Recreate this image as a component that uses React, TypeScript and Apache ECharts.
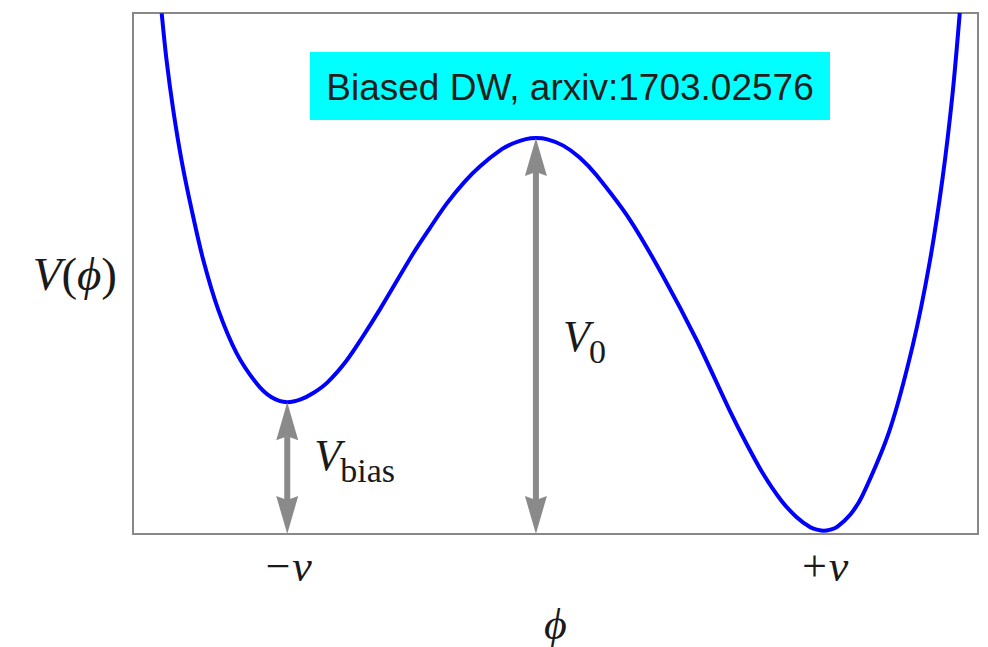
import React, { useEffect, useRef } from "react";
import * as echarts from "echarts";

// Biased double-well potential V(phi), phi in units of v, V in units of V0
const phiValues = [
  -1.468, -1.45, -1.425, -1.394, -1.356, -1.313, -1.257, -1.189, -1.114, -1.06,
  -1.0, -0.95, -0.903, -0.85, -0.78, -0.72, -0.654, -0.53, -0.47, -0.405,
  -0.34, -0.281, -0.2, -0.157, -0.11, -0.073, -0.03, 0.029, 0.09, 0.153,
  0.278, 0.402, 0.526, 0.65, 0.712, 0.774, 0.84, 0.898, 0.95, 0.975,
  1.0, 1.025, 1.05, 1.1, 1.145, 1.246, 1.332, 1.395, 1.443, 1.48,
  1.507,
];
const potentialValues = [
  1.315, 1.197, 1.071, 0.944, 0.818, 0.692, 0.566, 0.457, 0.38, 0.346,
  0.333, 0.34, 0.356, 0.383, 0.437, 0.497, 0.568, 0.709, 0.771, 0.835,
  0.889, 0.929, 0.972, 0.987, 0.9975, 1.0, 0.9967, 0.981, 0.951, 0.906,
  0.793, 0.65, 0.49, 0.311, 0.228, 0.152, 0.086, 0.043, 0.017, 0.011,
  0.008, 0.011, 0.018, 0.05, 0.098, 0.263, 0.477, 0.687, 0.899, 1.111,
  1.316,
];

// Vacua and their tick labels
const vacuumTicks = [-1, 1];
const vacuumLabels = ["\u2212v", "+v"];

// Double arrows: [phi, from V, to V] with labels V_sub
const arrowPhi = [-1, -0.073];
const arrowFrom = [0, 0];
const arrowTo = [0.333, 1.0];
const arrowSubscripts = ["bias", "0"];

const titleText = "Biased DW, arxiv:1703.02576";

const SERIF = '"Liberation Serif", "Times New Roman", "DejaVu Serif", serif';
const SANS = '"Liberation Sans", Arial, sans-serif';
const INK = "#1a1a1a";
const ARROW = "#8a8a8a";

export default function App() {
  const ref = useRef<HTMLDivElement>(null);

  useEffect(() => {
    if (!ref.current) return;
    const chart = echarts.init(ref.current, null, { renderer: "svg" });

    const curve = phiValues.map((p, i) => [p, potentialValues[i]]);
    const arrows = arrowPhi.map((p, i) => [p, arrowFrom[i], arrowTo[i]]);

    const mathStyle = { fontFamily: SERIF, fontSize: 47, color: INK };

    chart.setOption({
      animation: false,
      backgroundColor: "#ffffff",
      grid: {
        left: 133,
        right: 10,
        top: 13,
        bottom: 113,
        outerBoundsMode: "none",
        containLabel: false,
        show: true,
        borderColor: "#888888",
        borderWidth: 2,
        backgroundColor: "transparent",
      },
      xAxis: {
        type: "value",
        min: -1.575,
        max: 1.575,
        name: "{i|\u03d5}",
        nameLocation: "middle",
        nameGap: 68,
        nameTextStyle: {
          ...mathStyle,
          rich: { i: { ...mathStyle, fontSize: 44, fontStyle: "italic" } },
        },
        axisLine: { show: false },
        axisTick: { show: false },
        splitLine: { show: false },
        axisLabel: {
          customValues: vacuumTicks,
          formatter: (v: number) => vacuumLabels[vacuumTicks.indexOf(v)] ?? "",
          fontFamily: SERIF,
          fontStyle: "italic",
          fontSize: 44,
          color: INK,
          margin: 10,
        },
      },
      yAxis: {
        type: "value",
        min: 0,
        max: 1.316,
        name: "{i|V}{u|(}{i|\u03d5}{u|)}",
        nameLocation: "middle",
        nameRotate: 0,
        nameGap: 16,
        nameTextStyle: {
          ...mathStyle,
          rich: {
            i: { ...mathStyle, fontStyle: "italic" },
            u: { ...mathStyle },
          },
        },
        axisLine: { show: false },
        axisTick: { show: false },
        axisLabel: { show: false },
        splitLine: { show: false },
      },
      series: [
        {
          type: "line",
          data: curve,
          smooth: 0.3,
          showSymbol: false,
          clip: true,
          lineStyle: { color: "#0000ff", width: 4 },
          z: 2,
        },
        {
          type: "custom",
          data: arrows,
          z: 3,
          renderItem: (params: any, api: any) => {
            const x = api.value(0);
            const bottom = api.coord([x, api.value(1)]);
            const top = api.coord([x, api.value(2)]);
            const hl = 38;
            const hw = 11;
            const notch = 4;
            const cx = top[0];
            const labelY = top[1] + 0.55 * (bottom[1] - top[1]) + 3;
            const vx = cx + 27;
            const sub = arrowSubscripts[params.dataIndex];
            return {
              type: "group",
              children: [
                {
                  type: "line",
                  shape: { x1: cx, y1: top[1] + hl - notch, x2: cx, y2: bottom[1] - hl + notch },
                  style: { stroke: ARROW, lineWidth: 6 },
                },
                {
                  type: "polygon",
                  shape: {
                    points: [
                      [cx, top[1]],
                      [cx - hw, top[1] + hl],
                      [cx, top[1] + hl - notch],
                      [cx + hw, top[1] + hl],
                    ],
                  },
                  style: { fill: ARROW },
                },
                {
                  type: "polygon",
                  shape: {
                    points: [
                      [cx, bottom[1]],
                      [cx - hw, bottom[1] - hl],
                      [cx, bottom[1] - hl + notch],
                      [cx + hw, bottom[1] - hl],
                    ],
                  },
                  style: { fill: ARROW },
                },
                {
                  type: "text",
                  x: vx,
                  y: labelY,
                  style: {
                    text: "V",
                    fontFamily: SERIF,
                    fontStyle: "italic",
                    fontSize: 44,
                    fill: INK,
                    align: "left",
                    verticalAlign: "bottom",
                  },
                },
                {
                  type: "text",
                  x: vx + 26,
                  y: labelY + 10,
                  style: {
                    text: sub,
                    fontFamily: SERIF,
                    fontSize: 34,
                    fill: INK,
                    align: "left",
                    verticalAlign: "bottom",
                  },
                },
              ],
            };
          },
        },
      ],
      graphic: [
        {
          type: "rect",
          shape: { x: 310, y: 52, width: 520, height: 68 },
          style: { fill: "#00ffff" },
          z: 10,
        },
        {
          type: "text",
          x: 570,
          y: 87,
          style: {
            text: titleText,
            fontFamily: SANS,
            fontSize: 37,
            fill: "#231f20",
            align: "center",
            verticalAlign: "middle",
          },
          z: 11,
        },
      ],
    });

    return () => chart.dispose();
  }, []);

  return (
    <div
      ref={ref}
      style={{ position: "absolute", left: 0, top: 0, width: 988, height: 647, background: "#fff" }}
    />
  );
}
